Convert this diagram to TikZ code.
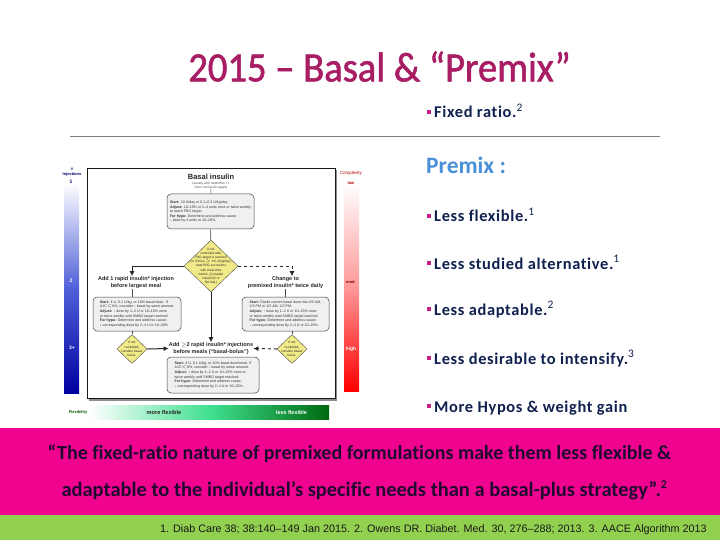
\documentclass[tikz,border=0pt]{standalone}
\usepackage{fontspec}
\setmainfont[Ligatures=NoCommon]{Carlito}
\newfontfamily\arialf{Liberation Sans}
\newfontfamily\bulletf[LetterSpace=4,Ligatures=NoCommon]{Carlito}
\newfontfamily\titlef[FakeBold=1.4,Ligatures=NoCommon]{Carlito}
\usetikzlibrary{shapes.geometric,arrows.meta}
\definecolor{titlec}{HTML}{A81D63}
\definecolor{navy}{HTML}{10204F}
\definecolor{premixc}{HTML}{4A90D9}
\definecolor{pinkband}{HTML}{F0048F}
\definecolor{greenband}{HTML}{92D050}
\definecolor{bulletc}{HTML}{C0208A}
\definecolor{quotec}{HTML}{200A30}
\definecolor{diam}{HTML}{F2EA88}
\definecolor{bluemid}{HTML}{5060D8}
\definecolor{bluedark}{HTML}{0000A0}
\definecolor{redmid}{HTML}{FF9898}
\definecolor{greenmid}{HTML}{40E090}
\definecolor{greendark}{HTML}{006A10}
\tikzset{
  x=1pt,y=-1pt,
  bul/.style={anchor=base west,inner sep=0pt,text=navy,font=\bulletf\bfseries\fontsize{16.4}{18}\selectfont},
  sq/.style={fill=bulletc,draw=none,minimum size=4pt,inner sep=0pt},
  quotet/.style={text=quotec,inner sep=0pt,font=\bfseries\fontsize{20}{24}\selectfont},
  tbox/.style={draw=black!75,line width=.5pt,fill=black!6,rounded corners=4pt,inner sep=1pt,align=left,text=black!80,
     font=\arialf\fontsize{3.6}{4.3}\selectfont},
  dia/.style={diamond,aspect=1,draw=black!70,line width=.4pt,fill=diam,inner sep=0pt},
  diat/.style={inner sep=0pt,align=center,text=black!85,font=\arialf\fontsize{3.2}{4.2}\selectfont},
  head/.style={inner sep=0pt,align=center,font=\arialf\bfseries\fontsize{5.5}{7}\selectfont,text=black!85},
  lab/.style={inner sep=0pt,align=center,font=\arialf\bfseries\fontsize{4}{5}\selectfont},
  big/.style={lab,font=\arialf\bfseries\fontsize{5}{6}\selectfont},
  flow/.style={line width=1pt,draw=black!85,-{Latex[length=5pt,width=5pt]}},
  plain/.style={line width=.6pt,draw=black!70},
}
\begin{document}
\begin{tikzpicture}
\useasboundingbox (0,0) rectangle (720,540);
\fill[white] (0,0) rectangle (720,540);
% title
\node[inner sep=0pt,text=titlec,font=\titlef\fontsize{38.6}{44}\selectfont] (title) at (379.5,66.5)
  {\scalebox{1}[1.08]{2015 – Basal \& “Premix”}};
\coordinate (ruleL) at (70,136.5);
\coordinate (ruleR) at (660,136.5);
\draw[black!50,line width=.8pt] (ruleL) -- (ruleR);
% right list
\node[sq] (b0) at (429,112.5) {};
\node[bul] (t0) at (434,118) {Fixed ratio.\textsuperscript{\mdseries 2}};
\node[anchor=base west,inner sep=0pt,text=premixc,font=\bfseries\fontsize{23.5}{25}\selectfont] (premix) at (426,174) {Premix :};
\node[sq] (b1) at (429,216) {};
\node[bul] (t1) at (434,222) {Less flexible.\textsuperscript{\mdseries 1}};
\node[sq] (b2) at (429,263) {};
\node[bul] (t2) at (434,269) {Less studied alternative.\textsuperscript{\mdseries 1}};
\node[sq] (b3) at (429,308.5) {};
\node[bul] (t3) at (434,315) {Less adaptable.\textsuperscript{\mdseries 2}};
\node[sq] (b4) at (429,358) {};
\node[bul] (t4) at (434,364) {Less desirable to intensify.\textsuperscript{\mdseries 3}};
\node[sq] (b5) at (429,406) {};
\node[bul] (t5) at (434,412) {More Hypos \& weight gain};
% scale bars
\shade[top color=white,bottom color=bluedark,middle color=bluemid] (64,183) rectangle (79,393);
\shade[top color=white,bottom color=red,middle color=redmid] (344,183) rectangle (359,391);
\shade[left color=white,right color=greendark,middle color=greenmid] (90,405) rectangle (329,419);
\node[lab,text=blue!45!black] (hyp) at (72,172) {\#\\Injections};
\node[big,text=blue!45!black] (n1) at (71,182) {1};
\node[big,text=white] (n2) at (71,281) {2};
\node[big,text=white] (n3) at (72,348) {3+};
\node[lab,text=red!70!black,font=\arialf\fontsize{4.4}{5}\selectfont] (cx) at (351,173) {Complexity};
\node[lab,text=red!70!black] (lo) at (351,183) {low};
\node[lab,text=red!50!black] (mo) at (351,282) {mod.};
\node[big,text=white] (hi) at (351,349) {high};
\node[lab,text=green!35!black] (fl) at (78,412) {Flexibility};
\node[lab,text=black!85,font=\arialf\bfseries\fontsize{5.6}{6}\selectfont] (mf) at (164,412.5) {more flexible};
\node[lab,text=white,font=\arialf\bfseries\fontsize{5.4}{6}\selectfont] (lf) at (291.5,412.5) {less flexible};
% frame
\fill[black!45] (89,170) rectangle (337,401);
\draw[black!90,line width=.9pt,fill=white] (87,168) rectangle (335,398.5);
% flow
\node[inner sep=0pt,align=center,font=\arialf\bfseries\fontsize{7.5}{8}\selectfont,text=black!85] (basal) at (211,177) {Basal insulin};
\node[inner sep=0pt,align=center,font=\arialf\fontsize{3.2}{3.9}\selectfont,text=black!70] (basal2) at (211,185.5) {(usually with metformin +/-\\other noninsulin agent)};
\node[tbox,minimum width=87pt,minimum height=35pt] (start) at (210.5,211.5) {\textbf{Start:} 10 U/day or 0.1–0.2 U/kg/day\\[.6pt]
\textbf{Adjust:} 10–15\% or 2–4 units once or twice weekly\\to reach FBG target.\\[.6pt]
\textbf{For hypo:} Determine and address cause;\\↓ dose by 4 units or 10–20\%.};
\node[dia,minimum width=54pt,minimum height=52pt] (dmain) at (211,266) {};
\node[diat] (dmaint) at (211,266) {If not\\controlled after\\FBG target is reached\\(or if dose $>$ 0.5 U/kg/day),\\treat PPG excursions\\with meal-time\\insulin. (Consider\\initial GLP-1\\RA trial.)};
\node[head] (addone) at (136,282.5) {Add 1 rapid insulin* injection\\before largest meal};
\node[head] (change) at (285.5,282.5) {Change to\\premixed insulin* twice daily};
\node[tbox,minimum width=88pt,minimum height=34pt] (boxl) at (137,314) {\textbf{Start:} 4 U, 0.1 U/kg, or 10\% basal dose. If\\A1C$<$8\%, consider ↓ basal by same amount.\\[.6pt]
\textbf{Adjust:} ↑ dose by 1–2 U or 10–15\% once\\or twice weekly until SMBG target reached.\\[.6pt]
\textbf{For hypo:} Determine and address cause;\\↓ corresponding dose by 2–4 U or 10–20\%.};
\node[tbox,minimum width=87pt,minimum height=34pt] (boxr) at (285.5,314) {\textbf{Start:} Divide current basal dose into 2/3 AM,\\1/3 PM or 1/2 AM, 1/2 PM.\\[.6pt]
\textbf{Adjust:} ↑ dose by 1–2 U or 10–15\% once\\or twice weekly until SMBG target reached.\\[.6pt]
\textbf{For hypo:} Determine and address cause;\\↓ corresponding dose by 2–4 U or 10–20\%.};
\node[dia,minimum width=30pt,minimum height=29pt] (dl) at (132,349) {};
\node[diat] (dlt) at (132,349) {If not\\controlled,\\consider basal-\\bolus.};
\node[dia,minimum width=30pt,minimum height=29pt] (dr) at (292,349) {};
\node[diat] (drt) at (292,349) {If not\\controlled,\\consider basal-\\bolus.};
\node[head] (addtwo) at (211,348.5) {Add $\geq$2 rapid insulin* injections\\before meals (“basal-bolus”)};
\node[tbox,minimum width=92pt,minimum height=36pt] (boxb) at (213,375) {\textbf{Start:} 4 U, 0.1 U/kg, or 10\% basal dose/meal. If\\A1C$<$8\%, consider ↓ basal by same amount.\\[.6pt]
\textbf{Adjust:} ↑ dose by 1–2 U or 10–15\% once or\\twice weekly until SMBG target reached.\\[.6pt]
\textbf{For hypo:} Determine and address cause;\\↓ corresponding dose by 2–4 U or 10–20\%.};
\draw[plain] (basal2) -- (start);
\draw[plain] (start) -- (dmain);
\draw[flow] (dmain.west) -| (addone.north -| dl);
\draw[flow,dashed] (dmain.east) -| (change.north -| dr);
\draw[plain] (addone.south -| dl) -- (boxl.north -| dl);
\draw[plain] (change) -- (boxr.north -| change);
\draw[plain] (boxl.south -| dl) -- (dl);
\draw[plain] (boxr.south -| dr) -- (dr);
\draw[flow] (dmain.south) -- (addtwo.north -| dmain);
\draw[flow] (dl.east) -- (addtwo.west);
\draw[flow,dashed] (dr.west) -- (addtwo.east);
% bands
\fill[pinkband] (0,428) rectangle (720,515);
\fill[greenband] (0,515) rectangle (720,540);
\node[quotet] (q1) at (359.5,453.5) {“The fixed-ratio nature of premixed formulations make them less flexible \&};
\node[quotet,font=\bfseries\fontsize{20.45}{24}\selectfont] (q2) at (364.5,490.5) {adaptable to the individual’s specific needs than a basal-plus strategy”.\textsuperscript{\fontsize{12}{12}\selectfont 2}};
\node[anchor=east,inner sep=0pt,text=black!90,font=\arialf\fontsize{10.8}{13}\selectfont] (foot) at (707,530) {1. Diab Care 38; 38:140–149 Jan 2015. 2. Owens DR. Diabet. Med. 30, 276–288; 2013. 3. AACE Algorithm 2013};
\end{tikzpicture}
\end{document}
